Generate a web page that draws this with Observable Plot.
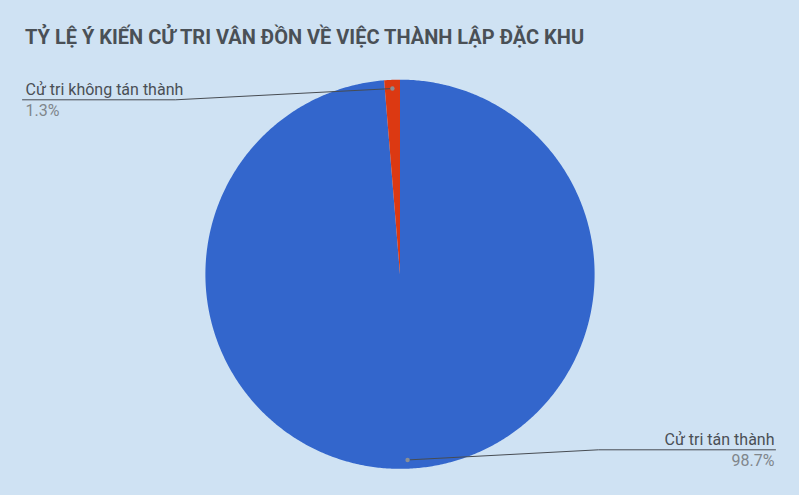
<!DOCTYPE html>
<html>
<head>
<meta charset="utf-8">
<script src="https://cdn.jsdelivr.net/npm/d3@7"></script>
<script src="https://cdn.jsdelivr.net/npm/@observablehq/plot@0.6"></script>
<style>
  html, body { margin: 0; padding: 0; background: #cfe2f3; }
  #wrap { width: 799px; height: 495px; background: #cfe2f3; overflow: hidden; font-family: Roboto, "Noto Sans", sans-serif; }
  #title { box-sizing: border-box; height: 60px; padding: 26.5px 0 0 25px; font-size: 20px; line-height: 20px; font-weight: bold; color: #4a5056; white-space: nowrap; }
  #chart svg { display: block; }
</style>
</head>
<body>
<div id="wrap">
  <div id="title">TỶ LỆ Ý KIẾN CỬ TRI VÂN ĐỒN VỀ VIỆC THÀNH LẬP ĐẶC KHU</div>
  <div id="chart"></div>
</div>
<script>
// ---- data ----
const categories = ["Cử tri tán thành", "Cử tri không tán thành"];
const values = [98.7, 1.3];
const percentLabels = ["98.7%", "1.3%"];
const colors = ["#3366cc", "#dc3912"];

// ---- layout (label placement in pie-radius units) ----
const W = 799, H = 435;
const R = 194.6, CX = 399.5, CY = 213.75;
const pxX = (px) => (px - CX) / R;
const pxY = (py) => (CY - py) / R;
const labelLayout = [
  { elbowX: pxX(598), elbowY: pxY(389.3), endX: pxX(775), anchor: "end", dx: -1 },
  { elbowX: pxX(175), elbowY: pxY(39.3), endX: pxX(22), anchor: "start", dx: 3 }
];

// ---- derived geometry from data ----
const pie = d3.pie().sort(null)(values);
const slicePts = pie.flatMap((s, i) => {
  const span = s.endAngle - s.startAngle;
  const n = Math.max(4, Math.ceil(span / (Math.PI / 360)));
  const pts = [{ name: categories[i], x: 0, y: 0 }];
  for (let k = 0; k <= n; k++) {
    const a = s.startAngle + span * k / n;
    pts.push({ name: categories[i], x: Math.sin(a), y: Math.cos(a) });
  }
  pts.push({ name: categories[i], x: 0, y: 0 });
  return pts;
});
const dotPts = pie.map((s, i) => {
  const a = (s.startAngle + s.endAngle) / 2;
  return { name: categories[i], x: 0.955 * Math.sin(a), y: 0.955 * Math.cos(a) };
});
const leaderPts = dotPts.flatMap((d, i) => [
  { name: d.name, x: d.x, y: d.y },
  { name: d.name, x: labelLayout[i].elbowX, y: labelLayout[i].elbowY },
  { name: d.name, x: labelLayout[i].endX, y: labelLayout[i].elbowY }
]);
const labels = categories.map((c, i) => ({
  name: c, pct: percentLabels[i],
  x: labelLayout[i].endX, y: labelLayout[i].elbowY,
  anchor: labelLayout[i].anchor, dx: labelLayout[i].dx
}));

const chart = Plot.plot({
  width: W, height: H,
  margin: 0,
  style: { background: "transparent", fontFamily: "Roboto, 'Noto Sans', sans-serif" },
  x: { domain: [pxX(0), pxX(W)], axis: null },
  y: { domain: [pxY(H), pxY(0)], axis: null },
  color: { domain: categories, range: colors },
  marks: [
    Plot.line(slicePts, { x: "x", y: "y", z: "name", fill: "name", stroke: "none" }),
    Plot.line(leaderPts, { x: "x", y: "y", z: "name", stroke: "#474c52", strokeWidth: 1, curve: "linear" }),
    Plot.dot(dotPts, { x: "x", y: "y", r: 2.2, fill: "#8a8f95", stroke: "none" }),
    ...labels.map(l => Plot.text([l], { x: "x", y: "y", text: "name", textAnchor: l.anchor, lineAnchor: "bottom", dx: l.dx, dy: -5.3, fontSize: 16, fill: "#4a4f55" })),
    ...labels.map(l => Plot.text([l], { x: "x", y: "y", text: "pct", textAnchor: l.anchor, lineAnchor: "top", dx: l.dx, dy: 5, fontSize: 16, fill: "#80868b" }))
  ]
});
document.getElementById("chart").appendChild(chart);
</script>
</body>
</html>
